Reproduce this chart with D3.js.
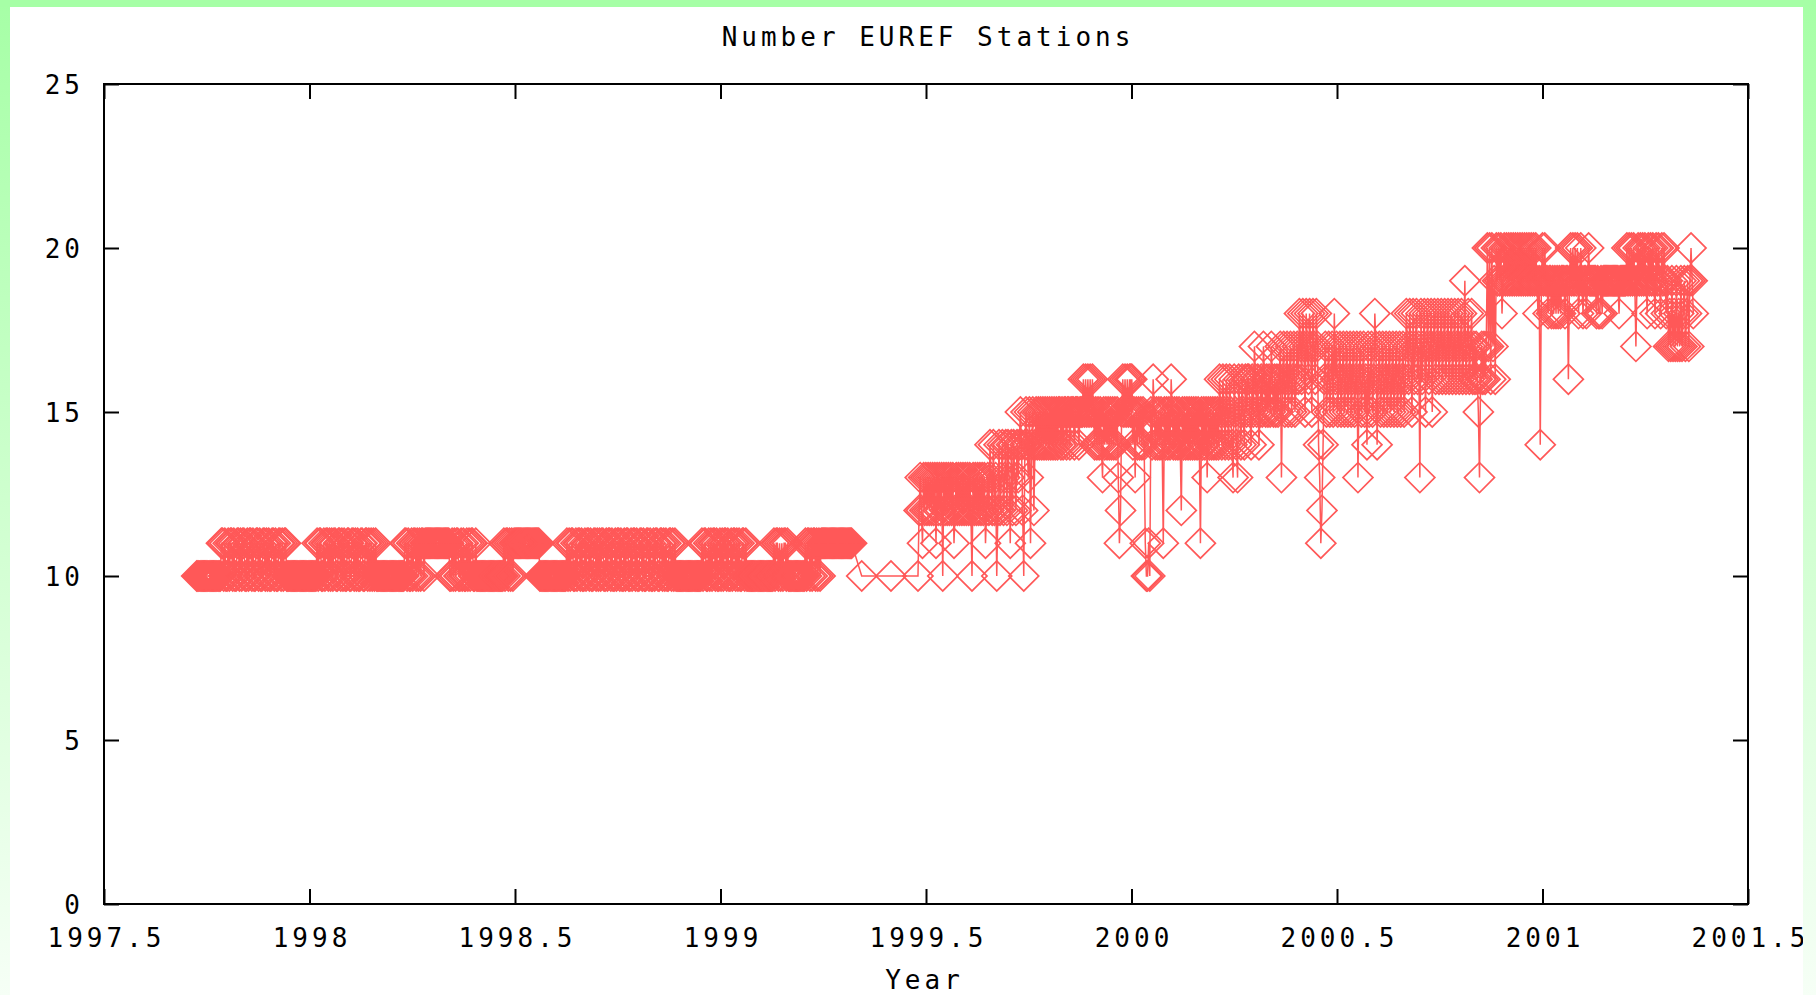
<!DOCTYPE html>
<html>
<head>
<meta charset="utf-8">
<script src="https://cdn.jsdelivr.net/npm/d3@7"></script>
<style>
  body { margin: 0; overflow: hidden; background: #fff; }
  svg text {
    font-family: "DejaVu Sans Mono", monospace;
    font-size: 26px;
    letter-spacing: 4px;
    fill: #000;
  }
</style>
</head>
<body>
<svg id="vis" width="1816" height="995"></svg>
<script>
const title = "Number EUREF Stations";
const xLabel = "Year";
const xTicks = [1997.5, 1998, 1998.5, 1999, 1999.5, 2000, 2000.5, 2001, 2001.5];
const yTicks = [0, 5, 10, 15, 20, 25];

// daily station counts, one list per year; firstDay = days since 1997-01-01 of the first entry
const firstDay = [265, 365, 730, 1095, 1461];

const counts1997 = [
  10,10,10,10,10, 10,10,10,10,10, 10,10,10,10,10, 10,10,10,10,10, 10,10,
  11,11,10,11,10,10,11,10,11,11, 10,11,10,10,11,11,10,11,10,11,
  11,10,10,11,10,11,11,10,11,10, 10,11,11,10,11,10,10,11,11,10,
  11,10,11,10,10,11,11,10,11,10, 10,11,11,10,11,10,11,11,10,10,
  10,10,10,10,10, 10,10,10,10,10, 10,10,10,10,10, 10,10,10
];

const counts1998 = [
  10,10,10,10,10,10,10,
  11,10,11,11,10,10,11,10,11,11, 10,11,10,11,10,11,11,10,10,11,
  11,10,11,10,11,10,10,11,11,10, 10,11,11,10,11,10,11,10,10,11,
  11,10,10,11,11,10,11,10,11,10, 11,10,11,
  10,10,10,10,10, 10,10,10,10,10, 10,10,10,10,10, 10,10,10,10,10, 10,10,10,10,10,
  11,11,10,11,10,10,11,10,11,11, 10,11,10,11,10,11,11,10,11,
  11,11,11,11,11, 11,11,11,11,11, 11,11,11,11,11, 11,11,11,11,11, 11,
  10,10,11,10,11,10,11,11,10,10, 11,10,11,10,10,11,10,11,10,11, 11,10,10,11,10,
  10,10,10,10,10, 10,10,10,10,10, 10,10,10,10,10, 10,10,10,10,10, 10,10,10,
  11,10,11,11,10,11,10,11,10,11,11,
  11,11,11,11,11, 11,11,11,11,11, 11,11,11,11,11, 11,11,11,11,11, 11,
  10,10,10,10,10, 10,10,10,10,10, 10,10,10,10,10, 10,10,10,10,10, 10,10,10,10,
  11,10,11,10,11,11,10,10,11,10, 11,11,10,11,10,10,11,10,11,11,
  10,11,10,10,11,11,10,11,10,11, 10,11,11,10,10,11,10,11,11,10,
  11,10,10,11,10,11,11,10,11,10, 10,11,10,11,11,10,10,11,10,11,
  11,10,11,10,10,11,11,10,11,10, 10,11,11,10,11,10,10,11,10,11,
  11,10,10,11,11,10,11,10,11,10, 10,11,11,10,11,10,11,
  10,10,10,10,10, 10,10,10,10,10, 10,10,10,10,10, 10,10,10,10,10, 10,10,10,
  11,10,11,11,10,10,11,10,11,10,11,11,10,11,10,10
];

const counts1999 = [
  11,10,11,10,11,11,10,11,10,10, 11,10,11,11,10,11,10,11,10,10, 11,11,10,11,10,
  10,10,10,10,10, 10,10,10,10,10, 10,10,10,10,10, 10,10,10,10,10, 10,10,10,
  11,10,11,11,10,11,10,11,10,11,11,10,11,
  10,10,10,10,10, 10,10,10,10,10, 10,10,10,10,10,
  11,10,11,11,10,11,10,11,11,10,11,10,11,10,
  11,11,11,11,11, 11,11,11,11,11, 11,11,11,11,11, 11,11,11,11,11, 11,11,11,11,11, 11,11,11,
  null,null,null,null,null,null,null,null, 10,
  null,null,null,null,null,null,null,null,null,null,null,null,null,null,null,null,null,null,null,null,null,null,null,null,null, 10,
  null,null,null,null,null,null,null,null,null,null,null,null,null,null,null,null,null,null,null,null,null,null,null, 10,
  12,13,12,11,13,12,13,12,13,12, 13,12,13,12,13,11,13,12,13,12,
  13,10,13,12,13,12,13,12,13,12, 13,11,12,13,12,13,12,13,12,13,
  12,13,12,13,12,13,12,10,13,12, 13,12,13,12,13,12,13,12,13,11,
  12,13,12,14,13,12,14,12,13,10, 12,14,12,13,14,12,13,14,12,14,
  13,11,14,12,14,13,12,14,13,14,
  15,14,12,10,14,15,14,13,15,11, 14,15,12,14,15,14,15,14,15,14,
  15,14,15,14,15,14,15,14,15,14, 15,14,15,14,15,15,14,15,14,15,
  15,14,15,15,14,15,15,15,14,15, 15,15,14,15,15,15,
  16,15,16,15,16,15,16,15,16,15, 14,15,14,15,14,15,14,13,15,14,
  15,14,15,14,15,14,15,14,15,14, 15,13,11,12,15,16,15,16,15,16,
  15,16,15,16,15
];

const counts2000 = [
  16,15,14,15,13,15,14,15,14,15, 14,15,14,11,10,10,11,10,15,14,
  16,15,14,15,14,15,14,15,14,11, 15,14,15,14,15,14,16,15,14,15,
  14,15,14,15,14,12,15,14,15,14, 15,14,15,14,15,14,15,14,15,14,
  15,14,11,15,14,15,14,15,13,15, 14,15,14,15,14,15,14,15,14,16,
  15,14,16,15,14,16,15,14,16,15, 14,13,16,15,14,13,16,15,14,16,
  15,14,16,15,16,
  16,15,14,16,15,17,16,15,16,14, 15,16,15,17,16,15,16,15,16,15,
  17,16,15,16,15,16,15,16,17,13, 16,17,15,16,17,15,16,17,15,16,
  17,15,16,17,16,18,17,16,18,17, 15,18,17,16,18,17,15,18,17,16,
  18,17,14,13,11,12,14,16,17,15, 16,17,15,16,17,15,18,16,17,15,
  16,17,15,16,17,15,16,17,15,16, 17,15,16,17,15,16,17,13,16,17,
  15,16,17,15,16,14,17,15,16,17, 15,16,18,17,14,16,17,15,16,17,
  15,16,17,15,16,17,15,16,17,15, 16,17,15,16,17,15,16,17,15,16,
  18,17,16,18,17,15,18,16,17,18, 16,17,13,18,16,17,18,15,17,18,
  16,17,18,15,17,18,16,17,18,16, 17,18,16,17,18,16,17,18,16,17,
  18,16,17,18,16,17,18,16,17,18, 16,17,19,16,17,18,16,17,18,16,
  17,16,17,16,15,13,16,17,16,17, 16,17,
  20,17,20,16,20,17,19,16,20,19, 20,19,20,18,19,20,19,20,19,20,
  19,20,19,20,19,20,19,20,19,20, 19,20,19,20,19,20,19,20,19,20,
  19,20,19,20,19,18,19,14,19
];

const counts2001 = [
  20,19,20,19,19,18,19,19,18,19, 18,19,18,19,18,19,18,19,19,19,
  18,19,19,16,19,20,19,20,19,20, 19,20,18,19,20,19,18,19,19,18,
  19,20,19,19,19,19,19,19,18,19, 18,18,19,18,19,19,19,19,19,19,
  19,19,19,19,19,19,19,19,18,19, 19,19,19,19,19,20,19,20,19,20,
  19,20,19,17,19,20,19,20,19,20, 19,20,19,18,20,19,20,19,20,19,
  18,20,19,20,19,18,20,19,20,19, 18,19,17,18,17,19,17,18,17,19,
  17,18,17,19,17,18,19,17,18,19, 17,19,20,19,18
];

const width = 1816;
const height = 995;
const frame = { left: 104, right: 1748, top: 84, bottom: 904 };
const red = "#ff5858";

const svg = d3.select("#vis");

// page background: green fading to white, white sheet on top
const grad = svg.append("defs").append("linearGradient")
  .attr("id", "bg").attr("x1", 0).attr("y1", 0).attr("x2", 0).attr("y2", 1);
grad.append("stop").attr("offset", "0%").attr("stop-color", "#a6ffa6");
grad.append("stop").attr("offset", "100%").attr("stop-color", "#f6fff6");

svg.append("rect").attr("width", width).attr("height", height).attr("fill", "url(#bg)");
svg.append("rect").attr("x", 10).attr("y", 7).attr("width", 1793).attr("height", height - 7).attr("fill", "#fff");

const x = d3.scaleLinear().domain([1997.5, 2001.5]).range([frame.left, frame.right]);
const y = d3.scaleLinear().domain([0, 25]).range([frame.bottom, frame.top]);

let points = [];
[counts1997, counts1998, counts1999, counts2000, counts2001].forEach(function(list, k) {
  list.forEach(function(c, i) {
    if (c !== null) points.push({ year: 1997 + (firstDay[k] + i) / 365.25, count: c });
  });
});

let plot = svg.append("g").attr("id", "plot");

plot.append("path")
  .datum(points)
  .attr("fill", "none")
  .attr("stroke", red)
  .attr("stroke-width", 1.5)
  .attr("d", d3.line().x(d => x(d.year)).y(d => y(d.count)));

// open diamonds (a square turned by 45 degrees)
const diamond = d3.symbol().type(d3.symbolSquare).size(450);
plot.selectAll(".pt")
  .data(points)
  .join("path")
  .attr("class", "pt")
  .attr("transform", d => "translate(" + x(d.year) + "," + y(d.count) + ") rotate(45)")
  .attr("d", diamond)
  .attr("fill", "none")
  .attr("stroke", red)
  .attr("stroke-width", 1.7);

// axes, ticks pointing inward on all four sides
let bottomAxis = svg.append("g")
  .attr("transform", "translate(0," + frame.bottom + ")")
  .call(d3.axisBottom(x).tickValues(xTicks).tickSize(-15).tickFormat(d3.format("")));
bottomAxis.selectAll("text").attr("y", 42.5).attr("dy", 0).attr("x", 2);

svg.append("g")
  .attr("transform", "translate(0," + frame.top + ")")
  .call(d3.axisTop(x).tickValues(xTicks).tickSize(-15).tickFormat(""));

let leftAxis = svg.append("g")
  .attr("transform", "translate(" + frame.left + ",0)")
  .call(d3.axisLeft(y).tickValues(yTicks).tickSize(-15));
leftAxis.selectAll("text").attr("x", -20).attr("dy", 9.5);

svg.append("g")
  .attr("transform", "translate(" + frame.right + ",0)")
  .call(d3.axisRight(y).tickValues(yTicks).tickSize(-15).tickFormat(""));

svg.selectAll(".domain").remove();
svg.selectAll(".tick line").attr("stroke", "#000").attr("stroke-width", 2);

svg.append("rect")
  .attr("x", frame.left).attr("y", frame.top)
  .attr("width", frame.right - frame.left).attr("height", frame.bottom - frame.top)
  .attr("fill", "none").attr("stroke", "#000").attr("stroke-width", 2);

svg.append("text")
  .attr("x", (frame.left + frame.right) / 2 + 2)
  .attr("y", 45.5)
  .attr("text-anchor", "middle")
  .text(title);

svg.append("text")
  .attr("x", 924.5)
  .attr("y", 988.5)
  .attr("text-anchor", "middle")
  .text(xLabel);

// right page strip covers the overflowing last tick label
svg.append("rect").attr("x", 1803).attr("y", 0).attr("width", width - 1803).attr("height", height).attr("fill", "url(#bg)");
svg.append("rect").attr("x", 0).attr("y", 0).attr("width", width).attr("height", 7).attr("fill", "#a6ffa6");
</script>
</body>
</html>
